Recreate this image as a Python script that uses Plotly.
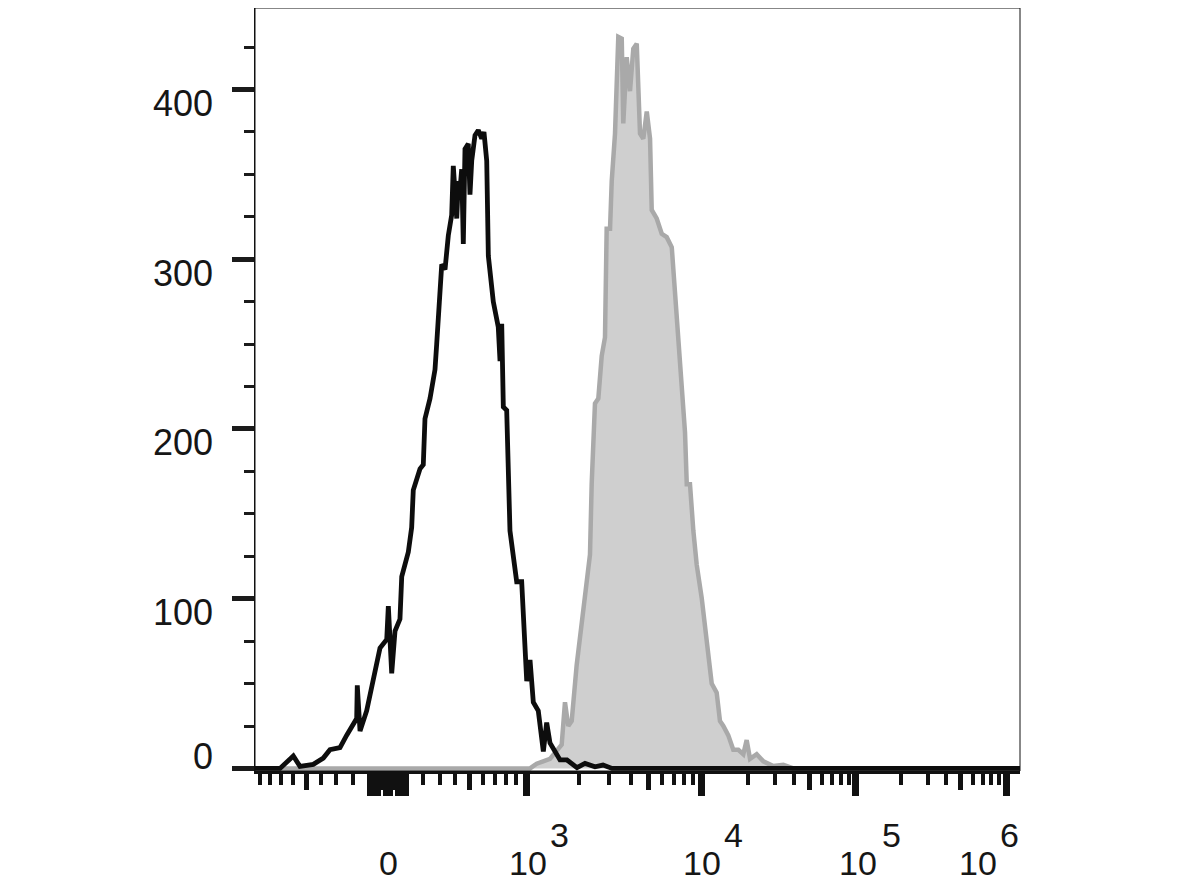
import numpy as np
import plotly.graph_objects as go

# ---------------- data (display channel units on x, event counts on y) ----------------
control_channel = [0, 32.7, 50.1, 58.8, 76.2, 89.3, 98.0, 111.1, 119.9, 132.9, 133.7, 137.3,
                   146.0, 154.6, 163.4, 172.2, 174.3, 178.7, 183.0, 189.5, 191.8, 200.4, 204.8,
                   206.9, 215.7, 220.0, 222.2, 228.8, 235.3, 237.5, 241.8, 244.1, 248.4, 252.7,
                   257.1, 259.2, 263.7, 265.8, 268.0, 270.2, 272.3, 274.5, 278.8, 281.0, 283.3,
                   287.6, 291.9, 296.3, 299.3, 302.9, 305.0, 311.5, 318.0, 320.3, 322.5, 324.6,
                   329.0, 333.3, 342.1, 348.6, 355.2, 359.5, 363.8, 370.3, 376.9, 381.3, 385.6,
                   392.2, 398.7, 407.8, 420.9, 431.4, 444.4, 454.9, 466.7, 1000]
control_count = [0, 0, 7.4, 1.2, 2.4, 6.1, 11, 12.3, 19.6, 29.4, 49, 22,
                 34, 51.5, 71, 76, 95.6, 56, 81, 88, 113, 127.5, 142,
                 164, 176.5, 179, 206, 218, 235, 250, 287, 297, 294, 314,
                 326, 355, 324, 346, 341, 353, 309, 365, 368, 338, 358,
                 373, 376, 371, 375, 358, 302, 275, 260, 240, 262, 213,
                 211, 140, 110, 110, 51.5, 64, 39, 34, 10, 27, 15,
                 10, 5, 5, 0.5, 3, 1, 2, 0, 0]

stained_channel = [0, 359.5, 368.2, 385.6, 400.9, 405.2, 409.5, 414.0, 420.5, 427.1, 433.6,
                   437.9, 440.1, 444.4, 448.8, 453.2, 457.5, 459.7, 464.1, 466.3, 470.6, 472.8,
                   474.9, 479.4, 481.4, 485.9, 490.2, 494.5, 499.0, 503.3, 507.6, 512.1, 516.4,
                   518.6, 525.1, 531.7, 538.2, 544.8, 549.1, 553.4, 557.9, 562.1, 564.4, 568.6,
                   573.0, 577.4, 583.9, 590.5, 597.0, 603.5, 607.8, 612.2, 618.7, 625.2, 631.8,
                   638.3, 642.7, 647.1, 655.8, 664.5, 677.6, 690.6, 703.7, 1000]
stained_count = [0, 0, 2.8, 5.6, 14, 39, 25, 28, 61, 84, 106,
                 126, 167.5, 215, 218, 243, 254, 318, 318, 346, 374, 407.5,
                 431, 430, 380, 419, 399, 424, 427, 374, 371, 387, 371,
                 329, 324, 315, 313, 307, 279, 246, 218, 198, 167.5, 167.5,
                 140, 120, 100.5, 72.6, 50, 44.7, 28, 25, 19.5, 11, 11,
                 8.4, 16.7, 5.6, 8.4, 4.2, 1.4, 2.2, 0, 0]

# tick values (fluorescence intensity)
x_major_vals = [0, 1e3, 1e4, 1e5, 1e6, -100, -90, -80, -70, -60, -10, 10, 60, 70, 80, 90, 100]
x_medium_vals = [-500, 500, 5e3, 5e4, 5e5, -50, -40, -30, -20, 20, 30, 40, 50]
x_minor_vals = ([-900, -800, -700, -600, -400, -300, -200, 200, 300, 400, 600, 700, 800, 900] +
                [k * 10 ** n for n in (3, 4, 5) for k in (2, 3, 4, 6, 7, 8, 9)])
x_label_vals = [1e3, 1e4, 1e5, 1e6]
x_label_exps = ["3", "4", "5", "6"]
y_label_vals = [0, 100, 200, 300, 400]

# ---------------- display scale (biexponential-like) ----------------
ZERO_D = 173.9
LIN_HALF = 180.4
LIN_K = 600.0
DEC_EXP = [3, 4, 5, 6]
DEC_D = [354.2, 583.0, 785.6, 981.7]


def to_display(v):
    v = np.atleast_1d(np.asarray(v, dtype=float))
    out = np.empty_like(v)
    small = np.abs(v) <= 1000
    out[small] = ZERO_D + np.sign(v[small]) * LIN_HALF * np.arcsinh(np.abs(v[small]) / LIN_K) / np.arcsinh(1000 / LIN_K)
    big = ~small
    out[big] = np.interp(np.log10(v[big]), DEC_EXP, DEC_D)
    return out


FONT = "Liberation Sans, Arial, sans-serif"
TXT = "#161616"

fig = go.Figure()
fig.add_trace(go.Scatter(x=stained_channel, y=stained_count, mode="lines",
                         line=dict(color="#a9a9a9", width=4.5), fill="tozeroy",
                         fillcolor="#cfcfcf", showlegend=False, hoverinfo="skip"))
fig.add_trace(go.Scatter(x=control_channel, y=control_count, mode="lines",
                         line=dict(color="#0d0d0d", width=4.8), showlegend=False,
                         hoverinfo="skip"))
fig.add_trace(go.Scatter(x=[], y=[], xaxis="x2", yaxis="y", showlegend=False, hoverinfo="skip"))

# the page body adds an 8px offset, so the figure is sized 8px smaller
fig.update_layout(
    width=1170, height=875,
    margin=dict(l=247, r=158, t=0, b=112),
    paper_bgcolor="white", plot_bgcolor="white",
    xaxis=dict(range=[0, 1000], showgrid=False, zeroline=False,
               showline=True, linewidth=3, linecolor="#111111",
               tickmode="array", tickvals=to_display(x_major_vals).tolist(),
               ticks="outside", ticklen=22, tickwidth=6.5, tickcolor="#111111",
               showticklabels=False,
               minor=dict(tickmode="array", tickvals=to_display(x_minor_vals).tolist(),
                          ticks="outside", ticklen=11, tickwidth=4, tickcolor="#111111")),
    xaxis2=dict(overlaying="x", matches="x", anchor="y", side="bottom", range=[0, 1000],
                showgrid=False, zeroline=False, showline=True, linewidth=3, linecolor="#111111",
                tickmode="array", tickvals=to_display(x_medium_vals).tolist(),
                ticks="outside", ticklen=16, tickwidth=5, tickcolor="#111111",
                showticklabels=False),
    yaxis=dict(range=[-1.5, 448], showgrid=False, zeroline=False,
               showline=True, linewidth=1, linecolor="#111111",
               tickmode="array", tickvals=y_label_vals,
               ticks="outside", ticklen=22, tickwidth=5, tickcolor="#1b1b1b",
               showticklabels=False,
               minor=dict(dtick=25, tick0=0, ticks="outside", ticklen=10, tickwidth=3,
                          tickcolor="#1b1b1b")),
    shapes=[dict(type="rect", xref="paper", yref="paper", x0=0, x1=1, y0=0, y1=1,
                 line=dict(color="#111111", width=1), fillcolor="rgba(0,0,0,0)", layer="above")],
)

annotations = []
for v in y_label_vals:
    annotations.append(dict(text=str(v), xref="paper", x=0, xshift=-40, xanchor="right",
                            yref="y", y=v, yshift=(12 if v == 0 else -14), yanchor="middle",
                            showarrow=False, font=dict(family=FONT, size=36, color=TXT)))

# x labels: "0" and 10^n
annotations.append(dict(text="0", xref="x", x=float(to_display([0])[0]), xanchor="center",
                        yref="paper", y=0, yshift=-92, yanchor="middle", showarrow=False,
                        font=dict(family=FONT, size=34, color=TXT)))
base_shift = [1.5, 0.5, 2.5, -28.5]
exp_shift = [22, 21, 24, -8]
for v, e, bs, es in zip(x_label_vals, x_label_exps, base_shift, exp_shift):
    xd = float(to_display([v])[0])
    annotations.append(dict(text="10", xref="x", x=xd, xshift=bs, xanchor="center",
                            yref="paper", y=0, yshift=-92, yanchor="middle", showarrow=False,
                            font=dict(family=FONT, size=34, color=TXT)))
    annotations.append(dict(text=e, xref="x", x=xd, xshift=es, xanchor="left",
                            yref="paper", y=0, yshift=-64, yanchor="middle", showarrow=False,
                            font=dict(family=FONT, size=34, color=TXT)))

fig.update_layout(annotations=annotations)
fig.write_html("out.html")
